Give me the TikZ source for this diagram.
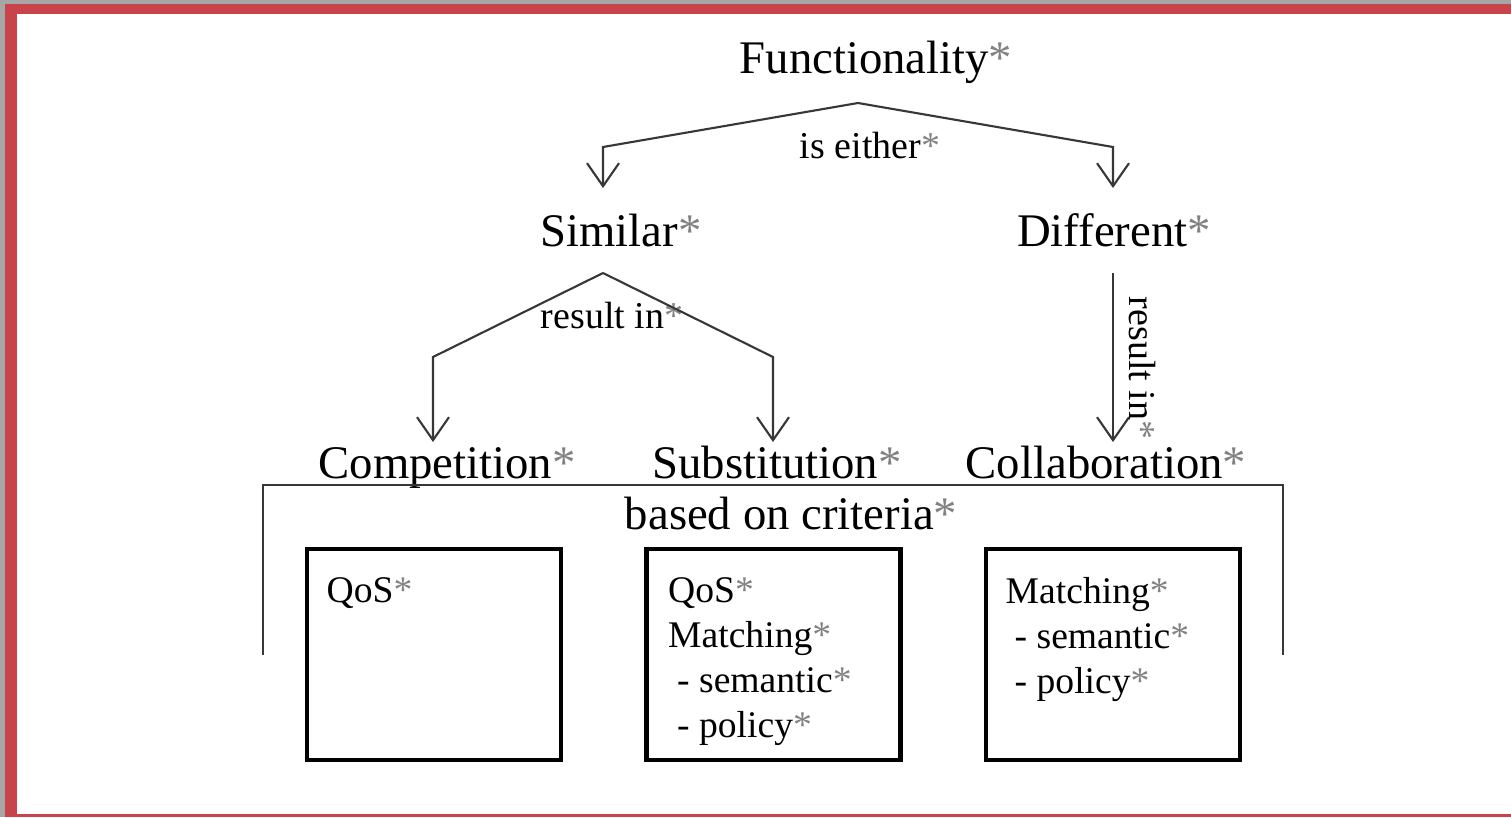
\documentclass[tikz,border=0pt]{standalone}
\usepackage{fontspec}
\setmainfont{Liberation Serif}
\usetikzlibrary{arrows.meta}
\definecolor{framered}{RGB}{200,68,74}
\definecolor{linegray}{RGB}{55,55,55}
\definecolor{stargray}{RGB}{130,130,130}
\newcommand{\gstar}{\textcolor{stargray}{*}}

\begin{document}
\begin{tikzpicture}[
  big/.style={anchor=base, inner sep=0pt, font=\fontsize{13.3}{16}\selectfont},
  small/.style={anchor=base, inner sep=0pt, font=\fontsize{10.8}{13}\selectfont},
  arr/.style={draw=linegray, line width=0.6pt, -{Straight Barb[length=2.3mm,width=3.2mm]}},
  crit/.style={draw, line width=1.3pt, minimum width=2.54cm, minimum height=2.11cm, inner sep=0pt, outer sep=0pt},
  crittext/.style={anchor=north west, inner sep=0pt, align=left, font=\fontsize{10.7}{12.8}\selectfont}
]
  % frame
  \useasboundingbox (0,0) rectangle (15.11,-8.17);
  \fill[black!35] (0,0) rectangle (15.11,-8.17);
  \fill[framered] (0.05,-0.04) rectangle (15.11,-8.17);
  \fill[white] (0.17,-0.14) rectangle (15.11,-8.14);
  % texts
  \node[big] at(8.76,-0.73)(func){Functionality\gstar};
  \node[small] at(8.70,-1.58)(either){is either\gstar};
  \node[big] at(6.21,-2.46)(similar){Similar\gstar};
  \node[big] at(11.14,-2.46)(different){Different\gstar};
  \node[small] at(6.12,-3.28)(simres){result in\gstar};
  \node[small,rotate=-90] at(11.29,-3.68)(difres){result in\gstar};
  \node[big] at(4.47,-4.78)(compet){Competition\gstar};
  \node[big] at(7.77,-4.78)(subst){Substitution\gstar};
  \node[big] at(11.06,-4.78)(collab){Collaboration\gstar};
  \node[big] at(7.91,-5.29)(criteria){based on criteria\gstar};
  % split points and arrow ends
  \coordinate (fsplit) at (8.58,-1.03);
  \coordinate (simin) at (6.03,-1.88);
  \coordinate (difin) at (11.13,-1.88);
  \coordinate (ssplit) at (6.03,-2.73);
  \coordinate (dsplit) at (11.13,-2.73);
  \coordinate (compin) at (4.33,-4.42);
  \coordinate (substin) at (7.73,-4.42);
  \coordinate (collabin) at (11.13,-4.42);
  % arrows
  \draw[arr] (fsplit) -- (6.03,-1.47) -- (simin);
  \draw[arr] (fsplit) -- (11.13,-1.47) -- (difin);
  \draw[arr] (ssplit) -- (4.33,-3.57) -- (compin);
  \draw[arr] (ssplit) -- (7.73,-3.57) -- (substin);
  \draw[arr] (dsplit) -- (collabin);
  % criteria bracket
  \draw[linegray, line width=0.6pt] (2.63,-6.55) -- (2.63,-4.85) -- (12.83,-4.85) -- (12.83,-6.55);
  % criteria boxes
  \node[crit] at(4.34,-6.545)(qosbox){};
  \node[crit] at(7.735,-6.545)(subbox){};
  \node[crit] at(11.13,-6.545)(colbox){};
  \node[crittext] at([shift={(0.19,-0.28)}]qosbox.north west)(qostext){QoS\gstar};
  \node[crittext] at([shift={(0.21,-0.28)}]subbox.north west)(subtext){QoS\gstar\\Matching\gstar\\\hspace*{0.9mm}- semantic\gstar\\\hspace*{0.9mm}- policy\gstar};
  \node[crittext] at([shift={(0.19,-0.28)}]colbox.north west)(coltext){Matching\gstar\\\hspace*{0.9mm}- semantic\gstar\\\hspace*{0.9mm}- policy\gstar};
\end{tikzpicture}
\end{document}
